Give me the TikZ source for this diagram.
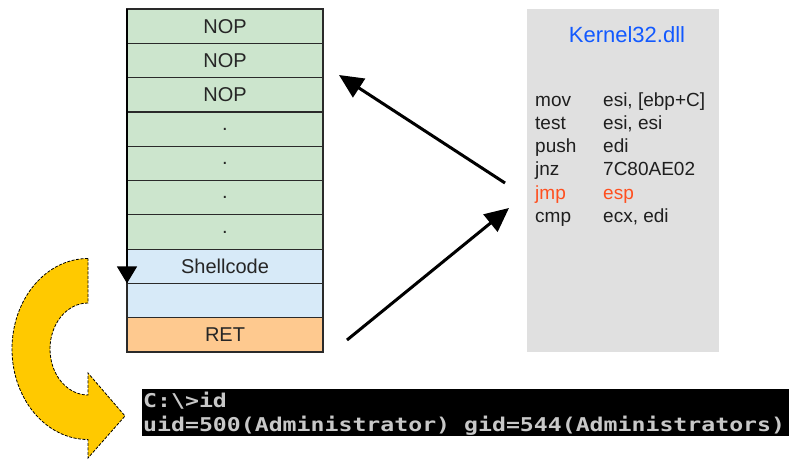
\documentclass[tikz,border=0pt]{standalone}
\usepackage{fontspec}
\setmainfont{Liberation Sans}
\newfontfamily\termfont{DejaVu Sans Mono}
\usetikzlibrary{arrows.meta}
\definecolor{nopgreen}{HTML}{CCE5CD}
\definecolor{shellblue}{HTML}{D7EAF8}
\definecolor{retorange}{HTML}{FEC98F}
\definecolor{kgrey}{HTML}{E0E0E0}
\definecolor{kblue}{HTML}{1259FF}
\definecolor{kred}{HTML}{FF4F1F}
\definecolor{gold}{HTML}{FFC900}
\definecolor{edge}{HTML}{2A2A2A}
\definecolor{termtext}{HTML}{C8C8C8}
\tikzset{
  row/.style={draw=edge, line width=1.2pt, minimum width=196pt, minimum height=34.3pt,
    inner sep=0pt, outer sep=0pt, font=\fontsize{20}{24}\selectfont, text=black!85},
  nop/.style={row, fill=nopgreen},
  shell/.style={row, fill=shellblue},
  ret/.style={row, fill=retorange},
  asm/.style={anchor=base west, inner sep=0pt, font=\fontsize{19}{22}\selectfont, text=black!88},
  bigarrow/.style={line width=3pt, -{Triangle[length=24pt,width=22pt]}},
  termline/.style={anchor=base west, inner sep=0pt, text=termtext,
    font=\termfont\bfseries\fontsize{19}{22}\selectfont},
}
\begin{document}
\begin{tikzpicture}[x=1pt,y=1pt]
\useasboundingbox (0,0) rectangle (789,-459);
% stack
\foreach \i/\t/\s in {0/NOP/nop,1/NOP/nop,2/NOP/nop,3/./nop,4/./nop,5/./nop,6/./nop,7/Shellcode/shell,8/{}/shell,9/RET/ret}{
  \node[\s] (r\i) at (225,{-9-34.3*(\i+0.5)}) {\t};
}
% kernel box
\node[fill=kgrey, minimum width=192pt, minimum height=343pt, inner sep=0pt] (k) at (623,-180.5) {};
\node[anchor=base, inner sep=0pt, text=kblue, font=\fontsize{22}{26}\selectfont] (ktitle) at (627,-42) {Kernel32.dll};
\foreach \j/\a/\b in {0/mov/{esi, [ebp+C]},1/test/{esi, esi},2/push/edi,3/jnz/7C80AE02,5/cmp/{ecx, edi}}{
  \node[asm] (a\j) at (535,{-106-23.3*\j}) {\a};
  \node[asm] (b\j) at (603,{-106-23.3*\j}) {\b};
}
\node[asm, text=kred] (a4) at (535,{-106-23.3*4}) {jmp};
\node[asm, text=kred] (b4) at (603,{-106-23.3*4}) {esp};
% arrows
\coordinate (s1) at (505,-183);
\coordinate (t1) at (339,-75);
\coordinate (s2) at (347,-340);
\coordinate (t2) at (509,-208);
\draw[bigarrow] (s1) -- (t1);
\draw[bigarrow] (s2) -- (t2);
% vertical arrow along stack
\draw[line width=1.4pt, -{Triangle[length=17pt,width=20pt]}] (r0.north west) -- (r7.south west);
% yellow C arrow
\filldraw[fill=gold, draw=black, line width=0.8pt, dash pattern=on 3pt off 1.5pt]
  (88,-258.5) arc[start angle=90, end angle=270, x radius=76, y radius=90.5]
  -- (88,-458) -- (125,-416) -- (88,-373) -- (88,-395)
  arc[start angle=270, end angle=90, x radius=38, y radius=46] -- cycle;
% terminal
\node[fill=black, minimum width=647pt, minimum height=47pt, inner sep=0pt, anchor=north west] (term) at (142,-389) {};
\node[termline] (l1) at (143,-407) {\scalebox{1.22}[1]{C:\textbackslash>id}};
\node[termline] (l2) at (143,-431) {\scalebox{1.22}[1]{uid=500(Administrator) gid=544(Administrators)}};
\end{tikzpicture}
\end{document}
